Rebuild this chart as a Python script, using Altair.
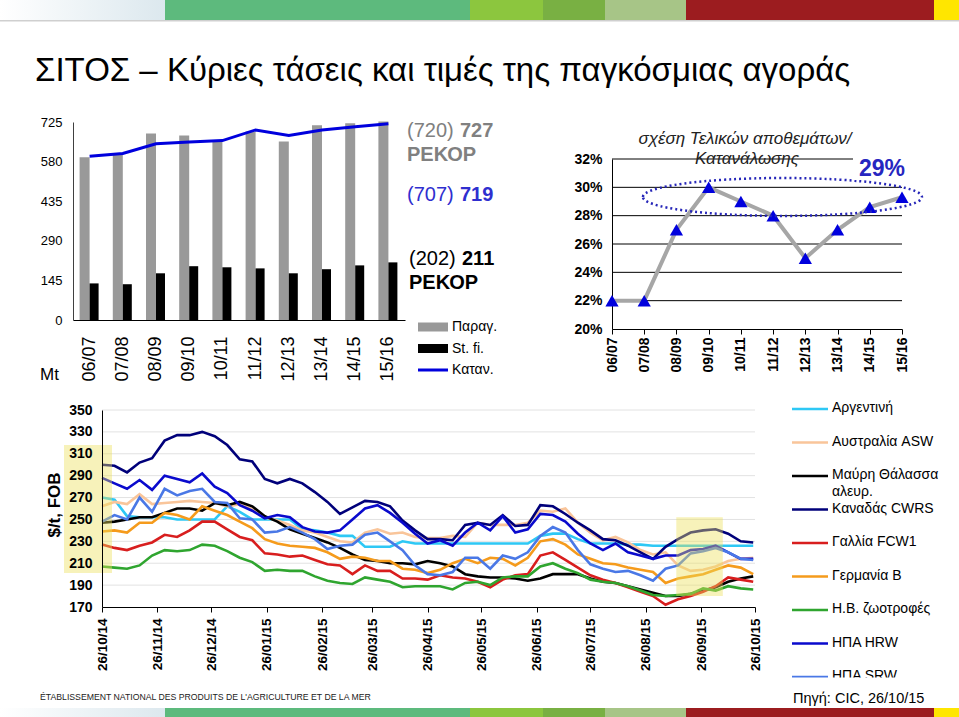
import altair as alt
import pandas as pd

W, H = 959, 717
SANS = "Liberation Sans, Arial, Helvetica, sans-serif"

# ---------------- data: world balance (Mt) ----------------
seasons = ["06/07", "07/08", "08/09", "09/10", "10/11", "11/12", "12/13", "13/14", "14/15", "15/16"]
production = [596, 610, 683, 676, 656, 690, 654, 713, 720, 727]
stocks = [134, 131, 171, 197, 193, 189, 171, 186, 200, 211]
consumption = [600, 610, 645, 652, 657, 696, 676, 696, 708, 719]
mt_ticks = [0, 145, 290, 435, 580, 725]

# ---------------- data: stocks / consumption ratio (%) ----------------
stock_ratio = [22, 22, 27, 30, 29, 28, 25, 27, 28.6, 29.3]
ratio_ticks = [20, 22, 24, 26, 28, 30, 32]

# ---------------- data: export prices ($/t FOB), weekly ----------------
price_dates = [d.strftime("%Y-%m-%d") for d in pd.date_range("2014-10-26", periods=53, freq="7D")]
argentina = [270, 268, 253, 252, 252, 252, 250, 250, 250, 250, 262, 257, 250, 250, 250, 250, 241, 240, 238, 235,
             235, 225, 225, 225, 230, 228, 228, 228, 228, 228, 228, 228, 228, 228, 228, 235, 237, 237, 232, 228,
             228, 228, 227, 227, 226, 226, 226, 226, 226, 226, 226, 226, 226]
australia = [262, 266, 264, 273, 264, 265, 266, 267, 266, 265, 262, 264, 260, 252, 249, 245, 240, 238, 234, 230,
             229, 238, 241, 237, 238, 234, 233, 233, 235, 234, 247, 245, 245, 245, 247, 258, 257, 260, 247, 238,
             231, 234, 229, 222, 218, 220, 208, 203, 204, 207, 212, 214, 215]
blacksea = [247, 248, 250, 252, 252, 256, 260, 260, 258, 265, 263, 266, 262, 253, 248, 241, 237, 233, 229, 224,
            218, 213, 212, 210, 210, 209, 212, 210, 207, 200, 198, 197, 197, 196, 194, 196, 200, 200, 200, 196,
            193, 192, 189, 186, 183, 180, 180, 182, 185, 188, 193, 196, 198]
canada = [300, 299, 293, 302, 306, 322, 327, 327, 330, 326, 318, 305, 303, 287, 283, 287, 283, 275, 266, 255,
          261, 267, 266, 262, 249, 240, 232, 232, 231, 245, 247, 245, 254, 244, 245, 263, 262, 255, 247, 240,
          232, 231, 226, 220, 214, 225, 232, 238, 240, 241, 237, 230, 229]
france = [227, 224, 222, 226, 229, 236, 234, 240, 248, 248, 241, 234, 231, 219, 218, 216, 217, 213, 209, 208,
          200, 208, 203, 203, 196, 196, 195, 199, 197, 196, 193, 188, 195, 199, 200, 217, 220, 213, 206, 199,
          195, 192, 188, 184, 180, 172, 177, 180, 184, 189, 197, 195, 193]
germany = [239, 240, 238, 247, 247, 256, 254, 250, 262, 258, 254, 248, 242, 232, 228, 226, 225, 224, 220, 214,
           216, 215, 212, 212, 205, 204, 201, 204, 210, 214, 210, 215, 214, 208, 215, 230, 232, 227, 218, 214,
           210, 209, 206, 204, 202, 192, 196, 198, 200, 204, 208, 206, 200]
uk_feed = [207, 206, 205, 208, 217, 222, 221, 222, 227, 226, 221, 215, 211, 203, 204, 203, 203, 198, 194, 192,
           191, 197, 195, 193, 188, 189, 189, 189, 186, 192, 193, 190, 197, 198, 198, 207, 210, 205, 201, 195,
           193, 192, 189, 185, 181, 180, 181, 182, 187, 185, 189, 187, 186]
us_hrw = [288, 283, 278, 286, 277, 290, 287, 284, 292, 280, 274, 263, 258, 251, 254, 252, 243, 239, 238, 240,
          250, 260, 263, 256, 247, 237, 228, 231, 226, 238, 247, 240, 253, 238, 241, 255, 254, 248, 237, 228,
          222, 228, 220, 217, 214, 217, 217, 222, 223, 226, 220, 214, 214]
us_srw = [248, 254, 250, 270, 257, 278, 272, 276, 278, 266, 265, 251, 250, 238, 239, 243, 238, 232, 223, 226,
          227, 236, 238, 230, 222, 208, 200, 199, 202, 215, 215, 205, 217, 214, 220, 235, 243, 238, 222, 209,
          205, 202, 203, 199, 194, 205, 208, 219, 221, 224, 220, 214, 213]

series_names = ["Αργεντινή", "Αυστραλία ASW", "Μαύρη Θάλασσα αλευρ.", "Καναδάς CWRS", "Γαλλία FCW1",
                "Γερμανία B", "Η.Β. ζωοτροφές", "ΗΠΑ HRW", "ΗΠΑ SRW"]
legend_labels = ["Αργεντινή", "Αυστραλία ASW", "Μαύρη Θάλασσα\nαλευρ.", "Καναδάς CWRS", "Γαλλία FCW1",
                 "Γερμανία B", "Η.Β. ζωοτροφές", "ΗΠΑ HRW", "ΗΠΑ SRW"]
series_values = [argentina, australia, blacksea, canada, france, germany, uk_feed, us_hrw, us_srw]
series_colors = ["#2ec8f5", "#f9c59a", "#000000", "#00007a", "#d81e1e", "#f59b1c", "#2fa52f", "#0a0acd", "#4a78e6"]
price_ticks = [170, 190, 210, 230, 250, 270, 290, 310, 330, 350]
price_axis_start, price_axis_end = "2014-10-26", "2015-10-26"
price_tick_dates = ["2014-10-26", "2014-11-26", "2014-12-26", "2015-01-26", "2015-02-26", "2015-03-26",
                    "2015-04-26", "2015-05-26", "2015-06-26", "2015-07-26", "2015-08-26", "2015-09-26",
                    "2015-10-26"]
highlight_dates = ["2015-09-12", "2015-10-08"]
highlight_prices = [180, 252]


# ---------------- helpers ----------------
def one():
    return pd.DataFrame({"k": [0]})


def text_mark(s, x, y, size, color="black", weight="normal", align="left", baseline="alphabetic",
              font=SANS, style="normal", angle=0):
    return alt.Chart(pd.DataFrame({"t": [s]})).mark_text(
        fontSize=size, color=color, fontWeight=weight, align=align, baseline=baseline,
        font=font, fontStyle=style, angle=angle
    ).encode(x=alt.value(x), y=alt.value(y), text="t:N")


def box(x0, x1, y0, y1, fill, opacity=1.0):
    return alt.Chart(one()).mark_rect(fill=fill, opacity=opacity).encode(
        x=alt.value(x0), x2=alt.value(x1), y=alt.value(y0), y2=alt.value(y1))


def dt(s):
    y, m, d = (int(p) for p in s.split("-"))
    return alt.DateTime(year=y, month=m, date=d, utc=True)


stripe_edges = [0, 165, 470, 543, 605, 686, 934, 959]
stripe_fills = ["#5dba7d", "#8cc63e", "#79b043", "#a7c587", "#9c1c1f", "#ffe600"]
grad = alt.LinearGradient(gradient="linear",
                          stops=[alt.GradientStop(color="#ffffff", offset=0),
                                 alt.GradientStop(color="#dce8ee", offset=1)],
                          x1=0, x2=1, y1=0, y2=0)


def stripe(y0, y1):
    layers = [box(stripe_edges[0], stripe_edges[1], y0, y1, grad)]
    for i, f in enumerate(stripe_fills):
        layers.append(box(stripe_edges[i + 1], stripe_edges[i + 2], y0, y1, f))
    return layers


# ---------------- panel 1: production / stocks / consumption ----------------
d1 = pd.DataFrame({"season": seasons, "production": production, "stocks": stocks, "consumption": consumption})
x1 = alt.X("season:N", sort=seasons, title=None,
           scale=alt.Scale(domain=seasons, range=[73, 405], paddingInner=0.42, paddingOuter=0.21),
           axis=alt.Axis(orient="bottom", offset=320 - H, labelAngle=270, labelFontSize=18, labelFont=SANS,
                         labelColor="black", ticks=False, domainColor="black", labelPadding=16, grid=False,
                         labelOverlap=False))
y1scale = alt.Scale(domain=[0, 725], range=[320, 122], nice=False, zero=True)
y1ax = alt.Axis(orient="left", offset=-73, values=mt_ticks, labelFontSize=13, labelFont=SANS,
                labelColor="black", ticks=False, domainColor="#404040", labelPadding=11, grid=False, title=None,
                labelOverlap=False)
p1 = alt.layer(
    alt.Chart(d1).mark_bar(color="#999999", width=10, xOffset=-5).encode(
        x=x1, y=alt.Y("production:Q", scale=y1scale, axis=y1ax, title=None)),
    alt.Chart(d1).mark_bar(color="#000000", width=9, xOffset=4.5).encode(
        x=x1, y=alt.Y("stocks:Q", scale=y1scale, axis=y1ax, title=None)),
    alt.Chart(d1).mark_line(color="#0000dd", strokeWidth=3).encode(
        x=x1, y=alt.Y("consumption:Q", scale=y1scale, axis=y1ax, title=None)),
)

legend1 = pd.DataFrame({"name": ["Παραγ.", "St. fi.", "Καταν."], "row": [0, 1, 2],
                        "col": ["#999999", "#000000", "#0000dd"], "w": [9, 9, 3]})
leg1y = alt.Y("row:Q", axis=None, scale=alt.Scale(domain=[0, 2], range=[327, 370], nice=False, zero=False))
p1_legend = alt.layer(
    alt.Chart(legend1).mark_rule().encode(
        y=leg1y, x=alt.value(418), x2=alt.value(448),
        size=alt.Size("w:Q", scale=None, legend=None), color=alt.Color("col:N", scale=None, legend=None)),
    alt.Chart(legend1).mark_text(align="left", baseline="middle", fontSize=14, font=SANS, color="black").encode(
        y=leg1y, x=alt.value(452), text="name:N"),
)

annot = [
    text_mark("(720)", 407, 137, 20, color="#808080"),
    text_mark(str(production[-1]), 460, 137, 20, color="#808080", weight="bold"),
    text_mark("ΡΕΚΟΡ", 407, 161, 20, color="#808080", weight="bold"),
    text_mark("(707)", 407, 201, 20, color="#2f2fcf"),
    text_mark(str(consumption[-1]), 460, 201, 20, color="#2f2fcf", weight="bold"),
    text_mark("(202)", 409, 265, 20, color="black"),
    text_mark(str(stocks[-1]), 462, 265, 20, color="black", weight="bold"),
    text_mark("ΡΕΚΟΡ", 409, 289, 20, color="black", weight="bold"),
    text_mark("Mt", 40, 375, 17, baseline="middle"),
]

# ---------------- panel 2: stocks/consumption ratio ----------------
d3 = pd.DataFrame({"idx": list(range(len(seasons))), "season": seasons, "ratio": stock_ratio})
label_expr = "[" + ",".join("'%s'" % s for s in seasons) + "][datum.value]"
x3 = alt.X("idx:Q", title=None,
           scale=alt.Scale(domain=[0, len(seasons) - 1], range=[612, 902], nice=False, zero=False),
           axis=alt.Axis(orient="bottom", offset=329 - H, values=list(range(len(seasons))), labelExpr=label_expr,
                         labelAngle=270, labelFontSize=14, labelFontWeight="bold", labelFont=SANS,
                         labelColor="black", tickSize=5, tickColor="black", domainColor="black", grid=False,
                         labelPadding=3, labelOverlap=False))
y3scale = alt.Scale(domain=[20, 32], range=[329, 159], nice=False, zero=False)
y3ax = alt.Axis(orient="left", offset=-612, values=ratio_ticks, labelExpr="datum.value + '%'", labelFontSize=14,
                labelFontWeight="bold", labelFont=SANS, labelColor="black", ticks=False, labelPadding=10,
                domainColor="black", grid=False, title=None, labelOverlap=False)
ellipse_path = ("M-1,0C-1,-0.075,-0.552,-0.136,0,-0.136C0.552,-0.136,1,-0.075,1,0"
                "C1,0.075,0.552,0.136,0,0.136C-0.552,0.136,-1,0.075,-1,0Z")
p3 = alt.layer(
    alt.Chart(pd.DataFrame({"g": ratio_ticks[1:]})).mark_rule(color="black", strokeWidth=1).encode(
        y=alt.Y("g:Q", scale=y3scale, axis=y3ax, title=None), x=alt.datum(0), x2=alt.datum(len(seasons) - 1)),
    alt.Chart(d3).mark_line(color="#a6a6a6", strokeWidth=4).encode(
        x=x3, y=alt.Y("ratio:Q", scale=y3scale, axis=y3ax, title=None)),
    alt.Chart(d3).mark_point(shape="triangle-up", filled=True, color="#0000dd", size=175, opacity=1).encode(
        x=x3, y=alt.Y("ratio:Q", scale=y3scale, axis=y3ax, title=None)),
    alt.Chart(one()).mark_point(shape=ellipse_path, filled=False, stroke="#2626b8", strokeWidth=2.5,
                                strokeDash=[2, 3], size=279 ** 2, opacity=1).encode(
        x=alt.datum(5.29), y=alt.datum(29.32)),
)
p3_text = [
    box(853, 906, 150, 180, "white"),
    text_mark("σχέση Τελικών αποθεμάτων/", 745, 144, 17, color="#222222", style="italic", align="center"),
    text_mark("Κατανάλωσης", 747, 164, 17, color="#222222", style="italic", align="center"),
    text_mark("%d%%" % round(stock_ratio[-1]), 882, 176, 23, color="#2626c0", weight="bold", align="center"),
]

# ---------------- panel 3: prices ----------------
rows = []
for name, vals in zip(series_names, series_values):
    for d, v in zip(price_dates, vals):
        rows.append({"date": d, "series": name, "price": v})
d4 = pd.DataFrame(rows)

x4scale = alt.Scale(type="utc", domain=[dt(price_axis_start), dt(price_axis_end)], range=[102, 755], nice=False)
x4ax = alt.Axis(orient="bottom", offset=607 - H, values=[dt(s) for s in price_tick_dates],
                labelExpr="utcFormat(datum.value, '%d/%m/%y')",
                labelAngle=270, labelFontSize=13.5, labelFontWeight="bold", labelFont=SANS,
                labelColor="black", tickSize=5, tickColor="black", domainColor="black", grid=False,
                labelPadding=6, title=None, labelOverlap=False, zindex=1)
y4scale = alt.Scale(domain=[170, 350], range=[607, 410], nice=False, zero=False)
y4ax = alt.Axis(orient="left", offset=-102, values=price_ticks, labelFontSize=14, labelFontWeight="bold",
                labelFont=SANS, labelColor="black", ticks=False, labelPadding=10, domainColor="black",
                grid=False, title=None, labelOverlap=False, zindex=1)
grid4 = pd.DataFrame({"g": price_ticks[1:], "x0": price_axis_start, "x1": price_axis_end})
hl = pd.DataFrame({"x0": [highlight_dates[0]], "x1": [highlight_dates[1]],
                   "y0": [highlight_prices[0]], "y1": [highlight_prices[1]]})
p4 = alt.layer(
    alt.Chart(grid4).mark_rule(color="#e2e2e2", strokeWidth=1).encode(
        x=alt.X("x0:T", scale=x4scale, axis=x4ax, title=None), x2="x1:T",
        y=alt.Y("g:Q", scale=y4scale, axis=y4ax, title=None)),
    alt.Chart(d4).mark_line(strokeWidth=2.6).encode(
        x=alt.X("date:T", scale=x4scale, axis=x4ax, title=None),
        y=alt.Y("price:Q", scale=y4scale, axis=y4ax, title=None),
        color=alt.Color("series:N", scale=alt.Scale(domain=series_names, range=series_colors), legend=None)),
    alt.Chart(hl).mark_rect(fill="#ece05a", opacity=0.42).encode(
        x=alt.X("x0:T", scale=x4scale, axis=x4ax, title=None), x2="x1:T",
        y=alt.Y("y0:Q", scale=y4scale, axis=y4ax, title=None), y2="y1:Q"),
)

leg4 = pd.DataFrame({"series": series_names, "label": legend_labels, "row": list(range(len(series_names)))})
leg4y = alt.Y("row:Q", axis=None,
              scale=alt.Scale(domain=[0, len(series_names) - 1], range=[409, 677], nice=False, zero=False))
p4_legend = alt.layer(
    alt.Chart(leg4).mark_rule(strokeWidth=2.6).encode(
        y=leg4y, x=alt.value(792), x2=alt.value(828),
        color=alt.Color("series:N", scale=alt.Scale(domain=series_names, range=series_colors), legend=None)),
    alt.Chart(leg4).mark_text(align="left", baseline="top", dy=-8, fontSize=14, font=SANS, color="black",
                              lineBreak="\n", lineHeight=17).encode(
        y=leg4y, x=alt.value(832), text="label:N"),
)

# ---------------- assemble ----------------
layers = []
layers += stripe(0, 20)
layers.append(box(0, 959, 20, 21.5, "#cfcfcf"))
layers.append(text_mark("ΣΙΤΟΣ – Κύριες τάσεις και τιμές της παγκόσμιας αγοράς", 35, 81, 33))
layers.append(p1)
layers.append(p1_legend)
layers += annot
layers.append(p3)
layers += p3_text
layers.append(p4)
layers.append(box(64, 112, 445, 573, "#ece05a", 0.42))
layers.append(text_mark("$/t, FOB", 55, 505, 17, weight="bold", align="center", baseline="middle", angle=270))
layers.append(p4_legend)
layers.append(box(780, 959, 677.5, 707, "white"))
layers.append(text_mark("ÉTABLISSEMENT NATIONAL DES PRODUITS DE L'AGRICULTURE ET DE LA MER", 40, 697, 8.7,
                        color="#222222", baseline="middle"))
layers.append(text_mark("Πηγή: CIC, 26/10/15", 793, 699, 14.5, baseline="middle"))
layers += stripe(708, 717)

chart = alt.layer(*layers).resolve_scale(
    x="independent", y="independent", color="independent", size="independent"
).resolve_axis(x="independent", y="independent").properties(
    width=W, height=H, autosize=alt.AutoSizeParams(type="none"), padding=0, background="white"
).configure_view(stroke=None)

chart.save("out.html", embed_options={"renderer": "svg", "actions": False})
